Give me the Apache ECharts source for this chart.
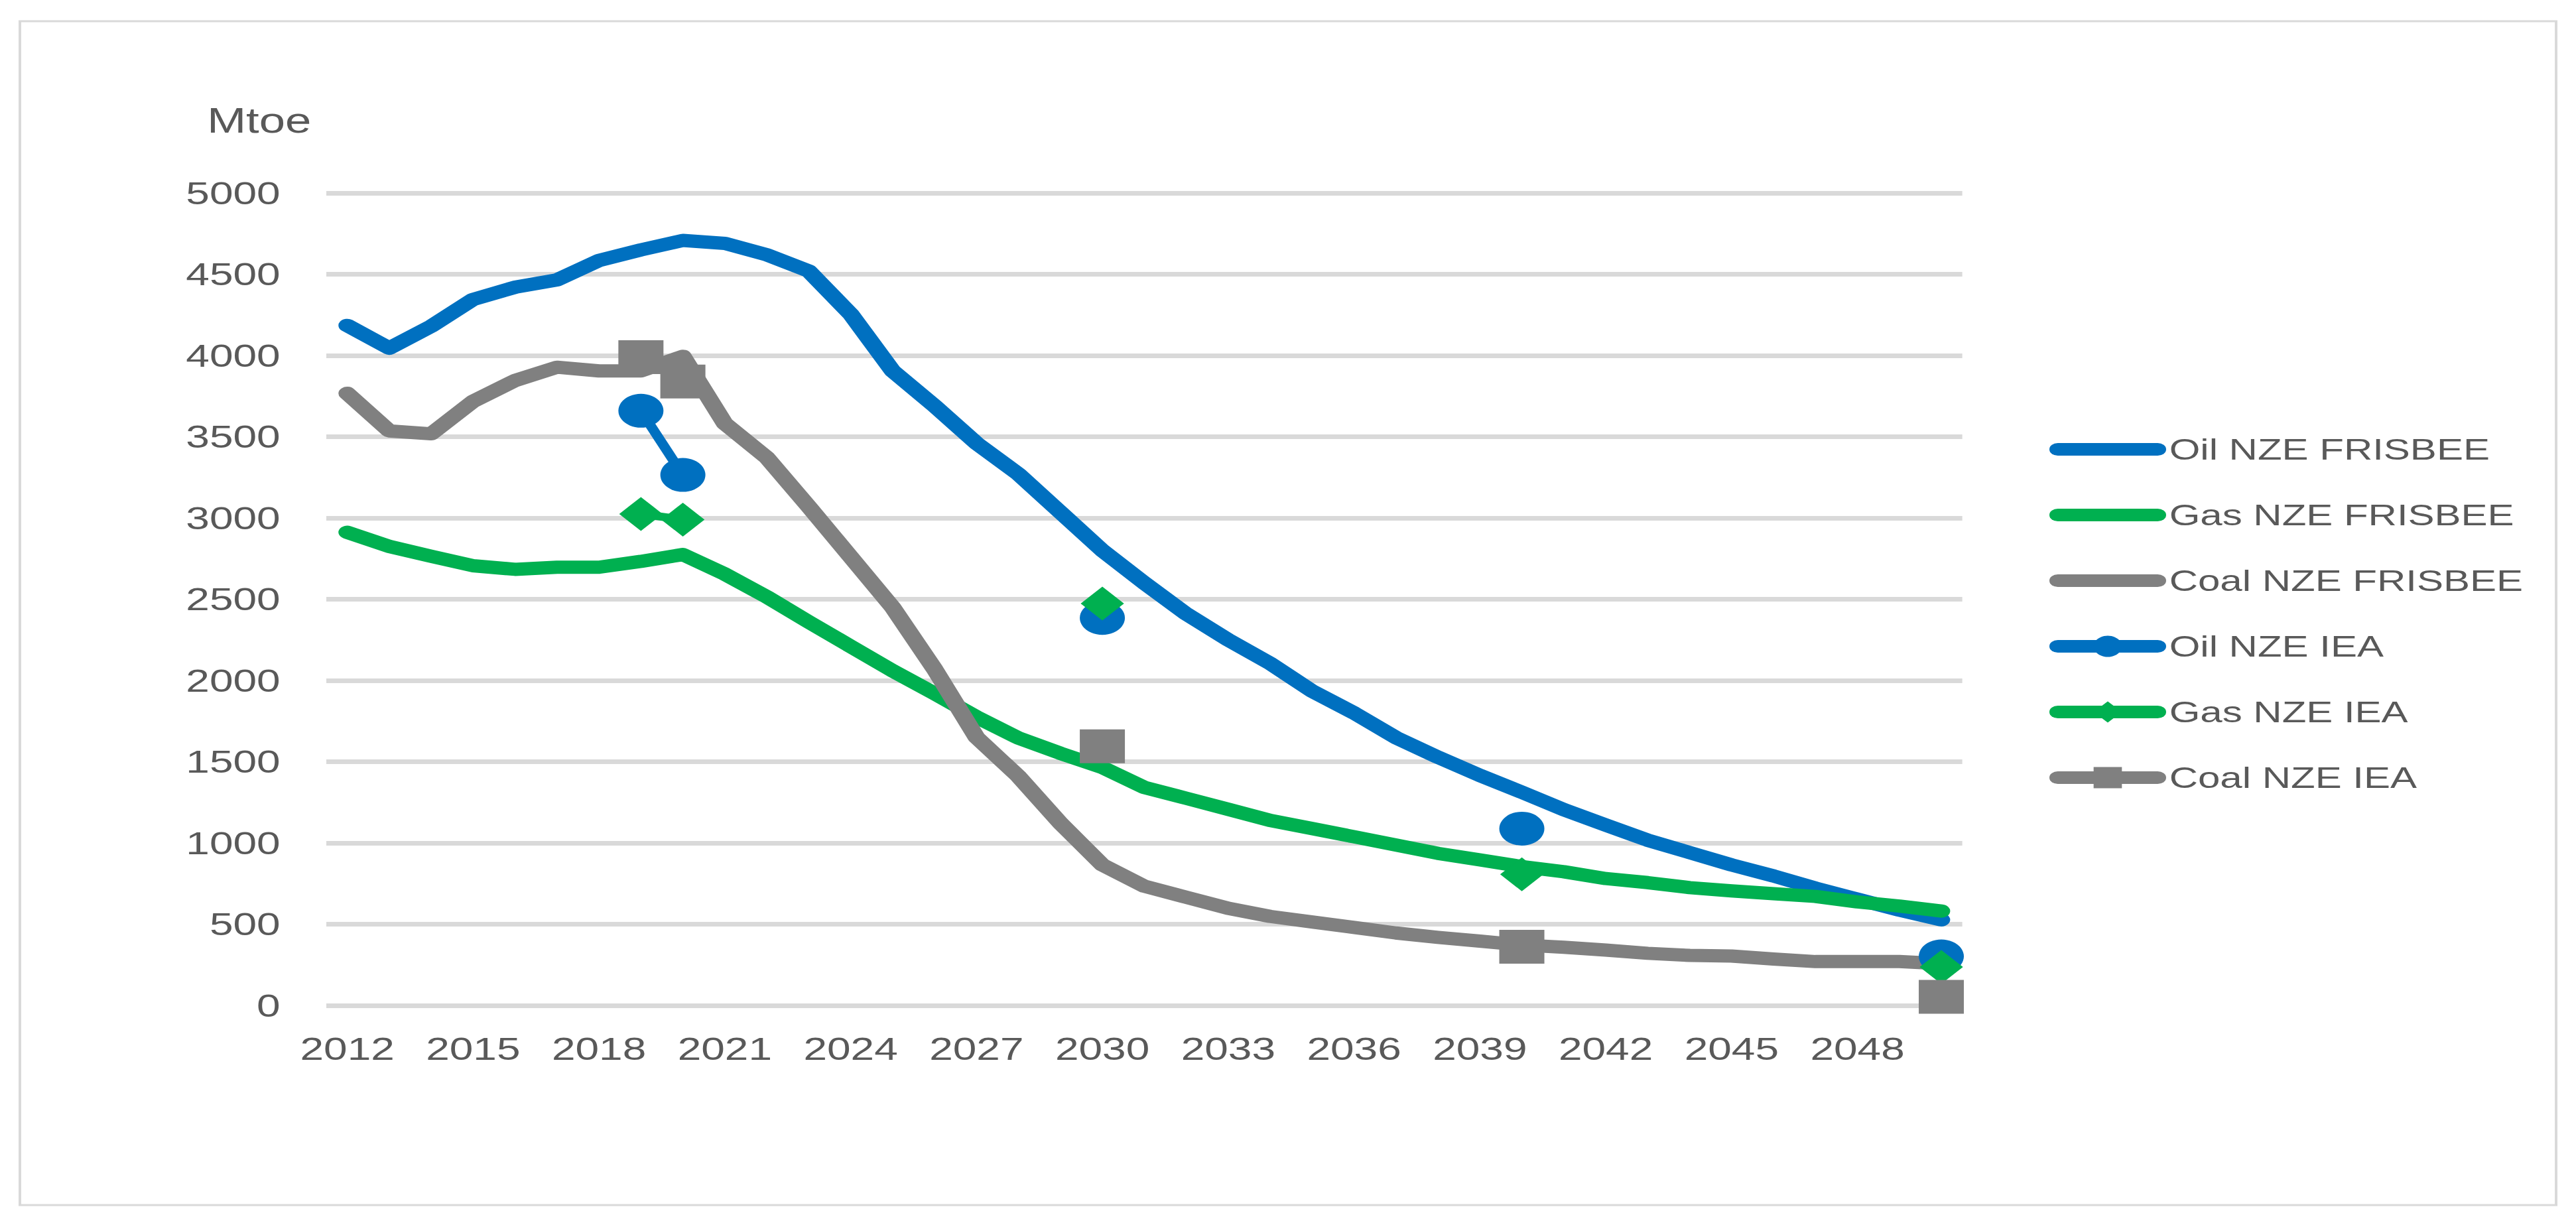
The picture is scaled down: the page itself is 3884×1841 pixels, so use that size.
<!DOCTYPE html>
<html>
<head>
<meta charset="utf-8">
<script src="https://cdn.jsdelivr.net/npm/echarts@6/dist/echarts.min.js"></script>
<style>
html,body{margin:0;padding:0;background:#ffffff;overflow:hidden;width:3884px;height:1841px;}
#c{width:2913px;height:1841px;transform:scaleX(1.33333);transform-origin:0 0;}
</style>
</head>
<body>
<div id="c"></div>
<script>
const years = ['2012','2013','2014','2015','2016','2017','2018','2019','2020','2021',
  '2022','2023','2024','2025','2026','2027','2028','2029','2030','2031',
  '2032','2033','2034','2035','2036','2037','2038','2039','2040','2041',
  '2042','2043','2044','2045','2046','2047','2048','2049','2050'];

const oilFrisbee = [4185,4045,4180,4345,4420,4465,4585,4650,4708,
  4690,4620,4520,4255,3905,3690,3460,3270,3035,2800,
  2600,2410,2250,2105,1935,1800,1648,1528,1416,1312,
  1205,1110,1017,941,865,797,722,654,587,527];

const gasFrisbee = [2912,2825,2764,2706,2684,2697,2697,2733,2775,
  2655,2515,2360,2210,2060,1920,1775,1646,1552,1465,
  1342,1275,1207,1139,1089,1038,987,936,896,855,
  823,781,756,725,705,688,671,637,612,581];

const coalFrisbee = [3767,3536,3518,3718,3846,3928,3905,3905,3995,
  3581,3372,3070,2760,2450,2070,1650,1410,1122,865,
  734,666,598,548,514,480,446,419,396,372,
  358,341,321,308,304,286,270,270,270,257];

const N = null;
const oilIea  = [N,N,N,N,N,N,N,3660,3265, N,N,N,N,N,N,N,N,N,2385, N,N,N,N,N,N,N,N,N,1088, N,N,N,N,N,N,N,N,N,302];
const gasIea  = [N,N,N,N,N,N,N,3025,2990, N,N,N,N,N,N,N,N,N,2473, N,N,N,N,N,N,N,N,N,807,  N,N,N,N,N,N,N,N,N,237];
const coalIea = [N,N,N,N,N,N,N,3990,3840, N,N,N,N,N,N,N,N,N,1595, N,N,N,N,N,N,N,N,N,361,  N,N,N,N,N,N,N,N,N,53];

const seriesNames = ['Oil NZE FRISBEE','Gas NZE FRISBEE','Coal NZE FRISBEE','Oil NZE IEA','Gas NZE IEA','Coal NZE IEA'];
const BLUE = '#0070c0', GREEN = '#00b050', GREY = '#808080', TEXT = '#595959', GRID = '#d9d9d9';
const FONT = 'Liberation Sans';

function frisbee(name, data, color) {
  return {
    name: name, type: 'line', data: data, symbol: 'none', smooth: false,
    lineStyle: {width: 20, color: color, cap: 'round', join: 'round'},
    itemStyle: {color: color},
    emphasis: {disabled: true}
  };
}
function iea(name, data, color, symbol, size) {
  return {
    name: name, type: 'line', data: data, symbol: symbol, symbolSize: size,
    showSymbol: true, showAllSymbol: true, connectNulls: false,
    lineStyle: {width: 12, color: color, cap: 'round', join: 'round'},
    itemStyle: {color: color, borderWidth: 0},
    emphasis: {disabled: true}
  };
}

const chart = echarts.init(document.getElementById('c'), null, {renderer: 'svg'});
const hidden = {color: 'rgba(0,0,0,0)', borderWidth: 0, borderColor: 'rgba(0,0,0,0)'};
function legLine(color) { return {width: 19, color: color, cap: 'round', join: 'round', opacity: 1}; }
chart.setOption({
  animation: false,
  backgroundColor: '#ffffff',
  textStyle: {fontFamily: FONT},
  graphic: [{
    type: 'rect', silent: true, z: -10,
    shape: {x: 22.5, y: 32, width: 2868, height: 1785},
    style: {fill: 'none', stroke: GRID, lineWidth: 3}
  }],
  grid: {left: 369, right: 694, top: 291, bottom: 325, containLabel: false, outerBoundsMode: 'none'},
  legend: {
    orient: 'vertical', left: 2317.5, top: 655, padding: 0,
    itemWidth: 113, itemHeight: 40, itemGap: 54,
    textStyle: {fontSize: 45, lineHeight: 40, color: TEXT, fontFamily: FONT, padding: [0, 0, 0, 8]},
    data: [
      {name: seriesNames[0], itemStyle: hidden, lineStyle: legLine(BLUE)},
      {name: seriesNames[1], itemStyle: hidden, lineStyle: legLine(GREEN)},
      {name: seriesNames[2], itemStyle: hidden, lineStyle: legLine(GREY)},
      {name: seriesNames[3], lineStyle: legLine(BLUE)},
      {name: seriesNames[4], lineStyle: legLine(GREEN)},
      {name: seriesNames[5], lineStyle: legLine(GREY)}
    ],
    selectedMode: false
  },
  xAxis: {
    type: 'category', data: years, boundaryGap: true,
    axisLine: {show: false}, axisTick: {show: false},
    axisLabel: {interval: 2, fontSize: 48, color: TEXT, fontFamily: FONT, margin: 41},
    splitLine: {show: false}
  },
  yAxis: {
    type: 'value', min: 0, max: 5000, interval: 500,
    name: 'Mtoe', nameLocation: 'end', nameGap: 110,
    nameTextStyle: {fontSize: 53, color: TEXT, fontFamily: FONT, align: 'right', verticalAlign: 'middle', padding: [0, 17, 0, 0]},
    axisLine: {show: false}, axisTick: {show: false},
    axisLabel: {fontSize: 48, color: TEXT, fontFamily: FONT, margin: 52, formatter: function (v) { return String(v); }},
    splitLine: {show: true, lineStyle: {color: GRID, width: 7}}
  },
  series: [
    frisbee(seriesNames[0], oilFrisbee, BLUE),
    frisbee(seriesNames[1], gasFrisbee, GREEN),
    frisbee(seriesNames[2], coalFrisbee, GREY),
    iea(seriesNames[3], oilIea, BLUE, 'circle', 51),
    iea(seriesNames[4], gasIea, GREEN, 'diamond', [49, 51]),
    iea(seriesNames[5], coalIea, GREY, 'rect', 51)
  ]
});
</script>
</body>
</html>
